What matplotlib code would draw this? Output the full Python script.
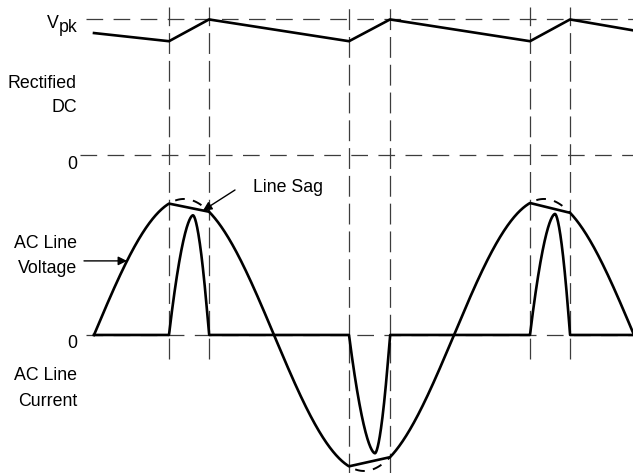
import numpy as np
import matplotlib
matplotlib.use("Agg")
import matplotlib.pyplot as plt

plt.rcParams["font.family"] = ["Liberation Sans", "DejaVu Sans"]
plt.rcParams["lines.scale_dashes"] = False

# Datos -----------------------------------------------------------------------
# eje x: angulo de la linea en grados; eje y: tension en p.u. del pico de linea
angulo_fin = 539
conduccion = [(75, 115), (255, 296), (436, 476)]   # ventanas de conduccion
pico_corriente = [99, 281, 461]                     # angulo del pico de cada pulso
amp_corriente = [0.88, -0.87, 0.89]

# tension rectificada (DC), vertices del rizado
dc_angulo = [0, 75, 115, 255, 296, 436, 476, 539]
dc_valor = [0.90, 0.84, 1.0, 0.84, 1.0, 0.84, 1.0, 0.92]
dc_cero = 1.32          # donde se dibuja el 0 de la traza DC
vpk = 1.0

# Formas de onda ----------------------------------------------------------------
th = np.linspace(0, angulo_fin, 3000)
v = np.sin(np.radians(th))
i = np.zeros_like(th)
for (a, b), p, amp in zip(conduccion, pico_corriente, amp_corriente):
    va, vb = np.sin(np.radians([a, b]))
    m = (th >= a) & (th <= b)
    v[m] = va + (vb - va) * (th[m] - a) / (b - a)   # caida de linea (sag)
    izq = (th >= a) & (th <= p)
    der = (th > p) & (th <= b)
    i[izq] = amp * (1 - ((p - th[izq]) / (p - a)) ** 1.7)
    i[der] = amp * (1 - ((th[der] - p) / (b - p)) ** 1.7)

# Figura --------------------------------------------------------------------------
fig = plt.figure(figsize=(6.33, 4.73), dpi=100)
ax = fig.add_axes([0, 0, 1, 1])
ax.set_xlim(-94, angulo_fin)
ax.set_ylim(-1.015, 2.463)
ax.axis("off")

gris = "#3c3c3c"
rayas_h = (0, (12, 7.5))
rayas_v = (0, (15, 5))

# lineas de referencia
ax.hlines(dc_cero + vpk, -8, angulo_fin, colors=gris, lw=0.9, linestyles=rayas_h, zorder=1)
ax.hlines(dc_cero, -14, angulo_fin, colors=gris, lw=0.9, linestyles=rayas_h, zorder=1)
ax.hlines(0, -8, angulo_fin, colors=gris, lw=0.9, linestyles=rayas_h, zorder=1)
for k, (a, b) in enumerate(conduccion):
    abajo = -1.02 if k == 1 else -0.18
    ax.vlines([a, b], abajo, 2.41, colors=gris, lw=0.9, linestyles=rayas_v, zorder=1)

# trazas
ax.plot(dc_angulo, dc_cero + np.array(dc_valor), color="k", lw=1.9, zorder=3)
ax.plot(th, v, color="k", lw=1.9, zorder=3)
ax.plot(th, i, color="k", lw=1.9, zorder=3)

# pico ideal (sin caida) en trazos
for a, b in conduccion:
    t = np.linspace(a, b, 100)
    ax.plot(t, np.sin(np.radians(t)), color="k", lw=1.4,
            linestyle=(8, (7, 6)), zorder=2)

# textos
fs = 12.8
ax.text(-35, dc_cero + vpk - 0.06, "V", fontsize=fs, ha="right", va="baseline")
ax.text(-35, dc_cero + vpk - 0.095, "pk", fontsize=fs, ha="left", va="baseline")
ax.text(-17, 1.816, "Rectified", fontsize=fs, ha="right", va="baseline")
ax.text(-17, 1.640, "DC", fontsize=fs, ha="right", va="baseline")
ax.text(-17, dc_cero - 0.103, "0", fontsize=fs, ha="right", va="baseline")
ax.text(-17, 0.640, "AC Line", fontsize=fs, ha="right", va="baseline")
ax.text(-17, 0.456, "Voltage", fontsize=fs, ha="right", va="baseline")
ax.text(-17, -0.096, "0", fontsize=fs, ha="right", va="baseline")
ax.text(-17, -0.331, "AC Line", fontsize=fs, ha="right", va="baseline")
ax.text(-17, -0.522, "Current", fontsize=fs, ha="right", va="baseline")
ax.text(159, 1.051, "Line Sag", fontsize=fs, ha="left", va="baseline")

# flechas
flecha = dict(arrowstyle="-|>", color="k", lw=1.0, mutation_scale=13,
              shrinkA=0, shrinkB=0)
ax.annotate("", xy=(33, np.sin(np.radians(33))), xytext=(-10, np.sin(np.radians(33))),
            arrowprops=flecha, zorder=4)
a, b = conduccion[0]
va, vb = np.sin(np.radians([a, b]))
ax.annotate("", xy=(109, va + (vb - va) * (109 - a) / (b - a)), xytext=(141, 1.066),
            arrowprops=flecha, zorder=4)

fig.savefig("out.png", dpi=100)
